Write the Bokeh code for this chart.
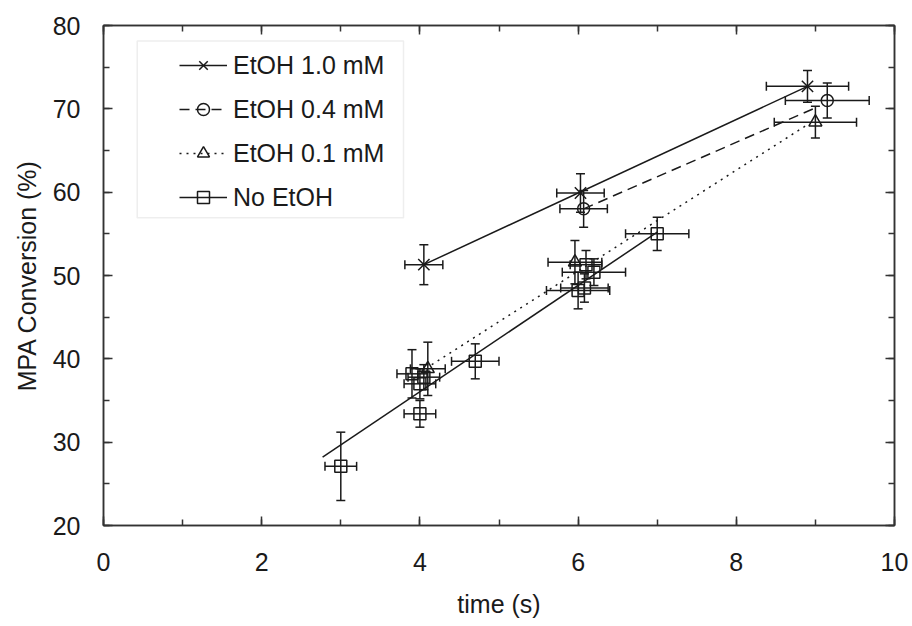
from bokeh.plotting import figure
from bokeh.models import (ColumnDataSource, Whisker, TeeHead, Legend, LegendItem,
                          SingleIntervalTicker, LinearAxis, CustomJSTickFormatter,
                          BoxAnnotation, Range1d)
from bokeh.embed import file_html
from bokeh.resources import INLINE

# ---------------- data ----------------
labels = ["EtOH 1.0 mM", "EtOH 0.4 mM", "EtOH 0.1 mM", "No EtOH"]

etoh10_t = [4.05, 6.03, 8.90]
etoh10_c = [51.3, 59.9, 72.7]
etoh10_terr = [0.24, 0.30, 0.52]
etoh10_cerr = [2.4, 2.3, 1.9]

etoh04_t = [6.07, 9.15]
etoh04_c = [58.0, 71.0]
etoh04_terr = [0.30, 0.53]
etoh04_cerr = [2.2, 2.1]

etoh01_t = [4.10, 5.96, 9.00]
etoh01_c = [38.8, 51.6, 68.4]
etoh01_terr = [0.22, 0.34, 0.52]
etoh01_cerr = [3.2, 2.6, 1.9]

noetoh_t = [3.00, 3.90, 4.00, 4.05, 4.00, 4.70, 6.00, 6.08, 6.20, 6.10, 7.00]
noetoh_c = [27.1, 38.2, 37.0, 37.8, 33.4, 39.7, 48.2, 48.5, 50.4, 51.3, 55.0]
noetoh_terr = [0.20, 0.19, 0.20, 0.20, 0.20, 0.30, 0.40, 0.30, 0.40, 0.20, 0.40]
noetoh_cerr = [4.1, 2.9, 1.8, 1.5, 1.6, 2.1, 2.2, 1.7, 1.6, 1.7, 2.0]

# trend lines (end points)
fit10_t = [4.05, 8.90]
fit10_c = [51.3, 72.7]
fit04_t = [6.07, 9.02]
fit04_c = [58.0, 70.2]
fit01_t = [4.15, 8.90]
fit01_c = [39.3, 68.1]
fitno_t = [2.77, 7.00]
fitno_c = [28.2, 55.2]

x_ticks_interval = 2
y_ticks_interval = 10

# ---------------- styling ----------------
FONT = "Liberation Sans"
INK = "#1a1a1a"
AX = "#333333"

p = figure(width=912, height=626, x_range=Range1d(0, 10), y_range=Range1d(20, 80),
           output_backend="svg", toolbar_location=None,
           min_border_left=103, min_border_right=18, min_border_top=25, min_border_bottom=101)
p.xgrid.visible = False
p.ygrid.visible = False
p.outline_line_color = AX
p.outline_line_width = 1.5
p.background_fill_color = "white"
p.border_fill_color = "white"

xt = SingleIntervalTicker(interval=x_ticks_interval, num_minor_ticks=2)
yt = SingleIntervalTicker(interval=y_ticks_interval, num_minor_ticks=2)
p.xaxis.ticker = xt
p.yaxis.ticker = yt
p.xaxis.axis_label = "time (s)"
p.yaxis.axis_label = "MPA Conversion (%)"


def style_axis(ax):
    ax.axis_line_color = AX
    ax.axis_line_width = 1.5
    ax.major_tick_line_color = AX
    ax.minor_tick_line_color = AX
    ax.major_tick_line_width = 1.5
    ax.minor_tick_line_width = 1.5
    ax.major_tick_in = 9
    ax.major_tick_out = 0
    ax.minor_tick_in = 6
    ax.minor_tick_out = 0
    ax.major_label_text_font = FONT
    ax.major_label_text_font_size = "25px"
    ax.major_label_text_color = INK
    ax.axis_label_text_font = FONT
    ax.axis_label_text_font_size = "25px"
    ax.axis_label_text_font_style = "normal"
    ax.axis_label_text_color = INK


for ax in p.xaxis + p.yaxis:
    style_axis(ax)
p.xaxis.major_label_standoff = 27
p.xaxis.axis_label_standoff = 16
p.yaxis.major_label_standoff = 23
p.yaxis.axis_label_standoff = 9

blank = CustomJSTickFormatter(code="return ''")
top_ax = LinearAxis(ticker=SingleIntervalTicker(interval=x_ticks_interval, num_minor_ticks=2),
                    formatter=blank)
right_ax = LinearAxis(ticker=SingleIntervalTicker(interval=y_ticks_interval, num_minor_ticks=2),
                      formatter=blank)
for ax in (top_ax, right_ax):
    style_axis(ax)
    ax.major_label_text_font_size = "0px"
    ax.major_label_standoff = 0
p.add_layout(top_ax, "above")
p.add_layout(right_ax, "right")

series = [
    (etoh10_t, etoh10_c, etoh10_terr, etoh10_cerr, fit10_t, fit10_c, "x", 16, "solid"),
    (etoh04_t, etoh04_c, etoh04_terr, etoh04_cerr, fit04_t, fit04_c, "circle", 12, "10 6"),
    (etoh01_t, etoh01_c, etoh01_terr, etoh01_cerr, fit01_t, fit01_c, "triangle", 13, "2 5"),
    (noetoh_t, noetoh_c, noetoh_terr, noetoh_cerr, fitno_t, fitno_c, "square", 12, "solid"),
]

items = []
for lab, (t, c, te, ce, ft, fc, mk, sz, dash) in zip(labels, series):
    src = ColumnDataSource(dict(
        t=t, c=c,
        tlo=[a - b for a, b in zip(t, te)], thi=[a + b for a, b in zip(t, te)],
        clo=[a - b for a, b in zip(c, ce)], chi=[a + b for a, b in zip(c, ce)],
    ))
    lr = p.line(ft, fc, line_color=INK, line_width=1.5, line_dash=dash)
    wy = Whisker(source=src, base="t", lower="clo", upper="chi", dimension="height",
                 line_color=INK, line_width=1.5,
                 lower_head=TeeHead(size=9, line_color=INK, line_width=1.5),
                 upper_head=TeeHead(size=9, line_color=INK, line_width=1.5))
    wx = Whisker(source=src, base="c", lower="tlo", upper="thi", dimension="width",
                 line_color=INK, line_width=1.5,
                 lower_head=TeeHead(size=9, line_color=INK, line_width=1.5),
                 upper_head=TeeHead(size=9, line_color=INK, line_width=1.5))
    p.add_layout(wy)
    p.add_layout(wx)
    mr = p.scatter("t", "c", source=src, marker=mk, size=sz, line_color=INK,
                   line_width=1.5, fill_color=None)
    items.append(LegendItem(label=lab, renderers=[lr, mr]))

# legend frame (screen units, relative to the plot frame)
p.add_layout(BoxAnnotation(left=33.7, right=300, top=484.5, bottom=307.8,
                           left_units="screen", right_units="screen",
                           top_units="screen", bottom_units="screen",
                           fill_color="white", fill_alpha=1.0,
                           line_color="#c8c8c8", line_width=1.5, level="overlay"))

legend = Legend(items=items, location=(76, 313), padding=0, margin=0,
                spacing=14, glyph_width=48, glyph_height=30, label_height=30,
                label_standoff=6, label_text_font=FONT, label_text_font_size="25px",
                label_text_color=INK, border_line_color=None, background_fill_alpha=0.0)
p.add_layout(legend)

open("out.html", "w").write(file_html(p, INLINE))
